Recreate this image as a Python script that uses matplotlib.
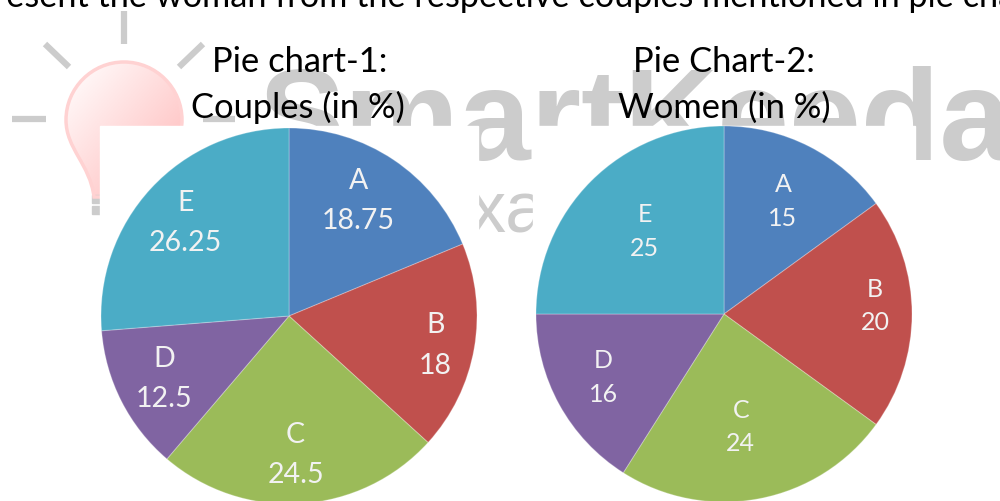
import numpy as np
import matplotlib
matplotlib.use('Agg')
import matplotlib.pyplot as plt
from matplotlib.patches import PathPatch, Rectangle
from matplotlib.path import Path

categories = ['A', 'B', 'C', 'D', 'E']
couples = [18.75, 18, 24.5, 12.5, 26.25]
women = [15, 20, 24, 16, 25]
couples_text = ['18.75', '18', '24.5', '12.5', '26.25']
women_text = ['15', '20', '24', '16', '25']
colors = ['#4f81bd', '#c0504d', '#9bbb59', '#8064a2', '#4bacc6']

W, H = 1000, 502
plt.rcParams['font.family'] = ['Lato', 'DejaVu Sans']
fig = plt.figure(figsize=(W / 100, H / 100), dpi=100)

# background in pixel coordinates, y going down like the picture
bg = fig.add_axes([0, 0, 1, 1])
bg.set_xlim(0, W)
bg.set_ylim(H, 0)
bg.axis('off')

# the watermark bulb
bulb = Path([(124, 63), (92, 63), (66, 89), (66, 121), (66, 150), (90, 165), (94, 198),
             (154, 198), (158, 165), (182, 150), (182, 121), (182, 89), (156, 63), (124, 63)],
            [Path.MOVETO] + [Path.CURVE4] * 6 + [Path.LINETO] + [Path.CURVE4] * 6)
img = np.linspace(0, 1, 64)[None, :] * 0.6 + np.linspace(0, 1, 64)[:, None] * 0.6
cmap = matplotlib.colors.LinearSegmentedColormap.from_list('b', ['#ffffff', '#ffc9c9'])
im = bg.imshow(img, extent=[66, 182, 198, 63], cmap=cmap, vmin=0, vmax=0.9, aspect='auto', zorder=1)
patch = PathPatch(bulb, fc='none', ec='#ffd2d2', lw=2.5, zorder=1.1)
bg.add_patch(patch)
im.set_clip_path(patch)
bg.set_xlim(0, W)
bg.set_ylim(H, 0)

gray = '#cccccc'
rays = [((124, 12), (124, 45)), ((45, 45), (69, 68)), ((203, 45), (179, 68)), ((12, 120), (46, 120)), ((203, 120), (235, 120))]
for p, q in rays:
    bg.plot([p[0], q[0]], [p[1], q[1]], color=gray, lw=4.5, solid_capstyle='butt', zorder=1)
bg.add_patch(Rectangle((92, 196), 8, 8, color=gray, zorder=1))
bg.add_patch(Rectangle((92, 207), 8, 8, color=gray, zorder=1))

bg.text(258, 160, 'SmartKeeda', family='Liberation Sans', fontweight='bold', fontsize=93, color=gray,
        ha='left', va='baseline', zorder=1)
bg.text(469, 233, 'xa', family='Liberation Sans', fontsize=52, color=gray, ha='left', va='baseline', zorder=1)

# white boxes the pies were pasted on
bg.add_patch(Rectangle((100, 127), 378, 380, color='white', zorder=2))
bg.add_patch(Rectangle((533, 127), 382, 380, color='white', zorder=2))

bg.text(-56, 7, 'represent the woman from the respective couples mentioned in pie chart', fontsize=24.7,
        color='black', ha='left', va='baseline', zorder=3)
bg.text(300, 72, 'Pie chart-1:', fontsize=24.8, color='black', ha='center', va='baseline', zorder=3)
bg.text(298, 118, 'Couples (in %)', fontsize=24.8, color='black', ha='center', va='baseline', zorder=3)
bg.text(724, 72, 'Pie Chart-2:', fontsize=24.8, color='black', ha='center', va='baseline', zorder=3)
bg.text(724, 118, 'Women (in %)', fontsize=24.8, color='black', ha='center', va='baseline', zorder=3)


def draw_pie(cx, cy, r, values, texts, dist, nudge, size, gap):
    ax = fig.add_axes([(cx - r) / W, 1 - (cy + r) / H, 2 * r / W, 2 * r / H])
    wedges, _ = ax.pie(values, colors=colors, startangle=90, counterclock=False, radius=1,
                       wedgeprops={'edgecolor': (1, 1, 1, 0.25), 'linewidth': 0.8})
    ax.set_xlim(-1, 1)
    ax.set_ylim(-1, 1)
    ax.patch.set_alpha(0)
    for w, cat, txt, d, n in zip(wedges, categories, texts, dist, nudge):
        mid = np.radians((w.theta1 + w.theta2) / 2)
        x = d * np.cos(mid) + n[0] / r
        y = d * np.sin(mid) - n[1] / r
        ax.text(x, y + gap, cat, color='#f2f2f2', fontsize=size, ha='center', va='center')
        ax.text(x, y - gap, txt, color='#f2f2f2', fontsize=size, ha='center', va='center')


draw_pie(289, 317, 188, couples, couples_text, [0.73, 0.79, 0.72, 0.69, 0.75],
         [(-7, -2), (0, 3), (-2, 3), (-9, 3), (0, 2)], 20.5, 0.107)
draw_pie(724, 315, 188, women, women_text, [0.69, 0.81, 0.59, 0.72, 0.62],
         [(0, 2), (-1, -9), (-4, 3), (-2, -3), (3, -1)], 18, 0.09)

fig.savefig('out.png', dpi=100)
